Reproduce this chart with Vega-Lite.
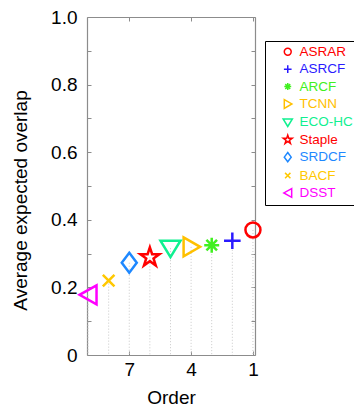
{
  "$schema": "https://vega.github.io/schema/vega-lite/v6.json",
  "width": 168,
  "height": 338,
  "autosize": {"type": "none"},
  "padding": {"left": 87, "top": 17, "right": 99, "bottom": 55},
  "background": "white",
  "config": {
    "view": {"stroke": null},
    "font": "Liberation Sans",
    "axis": {
      "grid": false,
      "domainColor": "#8c8c8c",
      "domainWidth": 1.2,
      "tickColor": "#8c8c8c",
      "tickWidth": 1,
      "tickSize": -4,
      "labelFont": "Liberation Sans",
      "labelFontSize": 19,
      "labelColor": "black",
      "labelFlush": false,
      "labelOverlap": false,
      "titleFont": "Liberation Sans",
      "titleFontSize": 19,
      "titleFontWeight": "normal",
      "titleColor": "black"
    }
  },
  "data": {
    "values": [
      {"method": "ASRAR", "order": 1, "eao": 0.370},
      {"method": "ASRCF", "order": 2, "eao": 0.338},
      {"method": "ARCF", "order": 3, "eao": 0.325},
      {"method": "TCNN", "order": 4, "eao": 0.320},
      {"method": "ECO-HC", "order": 5, "eao": 0.316},
      {"method": "Staple", "order": 6, "eao": 0.289},
      {"method": "SRDCF", "order": 7, "eao": 0.273},
      {"method": "BACF", "order": 8, "eao": 0.220},
      {"method": "DSST", "order": 9, "eao": 0.178}
    ]
  },
  "layer": [
    {
      "mark": {"type": "rule", "color": "#c8c8c8", "strokeDash": [1, 2], "strokeWidth": 1},
      "encoding": {
        "x": {
          "field": "order",
          "type": "quantitative",
          "scale": {"domain": [0.9, 9.05], "reverse": true, "nice": false, "zero": false},
          "axis": {"orient": "bottom", "values": [7, 4, 1], "labelPadding": 9, "title": "Order", "titleY": 42, "titleBaseline": "middle"}
        },
        "y": {
          "field": "eao",
          "type": "quantitative",
          "scale": {"domain": [0, 1], "nice": false, "zero": true},
          "axis": {
            "orient": "left",
            "values": [0, 0.1, 0.2, 0.3, 0.4, 0.5, 0.6, 0.7, 0.8, 0.9, 1.0],
            "labelExpr": "datum.value == 0 ? '0' : (round(datum.value*10) % 2 == 0 ? format(datum.value, '.1f') : '')",
            "labelPadding": 14,
            "title": "Average expected overlap",
            "titleX": -67,
            "titleY": 183,
            "titleBaseline": "middle"
          }
        },
        "y2": {"datum": 0}
      }
    },
    {
      "mark": {"type": "point", "filled": false, "strokeWidth": 2.5, "size": 400, "opacity": 1},
      "encoding": {
        "x": {
          "field": "order",
          "type": "quantitative",
          "axis": {"orient": "top", "values": [7, 4, 1], "labels": false, "title": null}
        },
        "y": {
          "field": "eao",
          "type": "quantitative",
          "axis": {"orient": "right", "values": [0, 0.1, 0.2, 0.3, 0.4, 0.5, 0.6, 0.7, 0.8, 0.9, 1.0], "labels": false, "title": null}
        },
        "color": {
          "field": "method",
          "type": "nominal",
          "scale": {
            "domain": ["ASRAR", "ASRCF", "ARCF", "TCNN", "ECO-HC", "Staple", "SRDCF", "BACF", "DSST"],
            "range": ["#FF0000", "#2A1AFF", "#40F020", "#FFC000", "#10F090", "#FF0000", "#1E88FF", "#FFC800", "#FF00FF"]
          },
          "legend": {
            "title": null,
            "orient": "none",
            "legendX": 178,
            "legendY": 24,
            "strokeColor": "black",
            "fillColor": "white",
            "padding": 4,
            "symbolOffset": 12,
            "symbolSize": 85,
            "symbolStrokeWidth": 1.5,
            "labelFont": "Liberation Sans",
            "labelFontSize": 13.5,
            "labelOffset": 5,
            "labelColor": {"expr": "scale('color', datum.value)"},
            "rowPadding": 2.4
          }
        },
        "shape": {
          "field": "method",
          "type": "nominal",
          "scale": {
            "domain": ["ASRAR", "ASRCF", "ARCF", "TCNN", "ECO-HC", "Staple", "SRDCF", "BACF", "DSST"],
            "range": [
              "M0.75,0A0.75,0.75 0 1,1 -0.75,0A0.75,0.75 0 1,1 0.75,0Z",
              "M-0.83,0H0.83M0,-0.83V0.83",
              "M-0.75,0H0.75M0,-0.75V0.75M-0.53,-0.53L0.53,0.53M-0.53,0.53L0.53,-0.53",
              "M-0.75,-0.95L0.9,0L-0.75,0.95Z",
              "M-1,-0.75L1,-0.75L0,0.9Z",
              "M0,-1L0.225,-0.309L0.951,-0.309L0.363,0.118L0.588,0.809L0,0.382L-0.588,0.809L-0.363,0.118L-0.951,-0.309L-0.225,-0.309Z",
              "M0,-1L0.75,0L0,1L-0.75,0Z",
              "M-0.58,-0.58L0.58,0.58M-0.58,0.58L0.58,-0.58",
              "M0.85,-0.95L-0.85,0L0.85,0.95Z"
            ]
          }
        }
      }
    }
  ],
  "resolve": {"axis": {"x": "independent", "y": "independent"}}
}
